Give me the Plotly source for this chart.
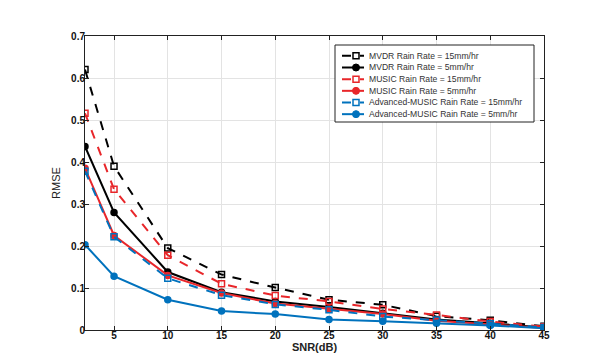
import plotly.graph_objects as go

snr = [2.3, 5, 10, 15, 20, 25, 30, 35, 40, 45]

mvdr_15 = [0.620, 0.390, 0.195, 0.132, 0.101, 0.072, 0.060, 0.033, 0.023, 0.009]
mvdr_5 = [0.437, 0.280, 0.138, 0.090, 0.068, 0.055, 0.040, 0.025, 0.016, 0.006]
music_15 = [0.516, 0.335, 0.178, 0.110, 0.082, 0.068, 0.050, 0.036, 0.020, 0.008]
music_5 = [0.385, 0.225, 0.130, 0.088, 0.063, 0.050, 0.038, 0.022, 0.013, 0.005]
adv_15 = [0.378, 0.222, 0.123, 0.083, 0.061, 0.048, 0.032, 0.024, 0.015, 0.006]
adv_5 = [0.203, 0.128, 0.072, 0.045, 0.038, 0.025, 0.021, 0.016, 0.011, 0.004]

names = [
    "MVDR Rain Rate = 15mm/hr",
    "MVDR Rain Rate = 5mm/hr",
    "MUSIC Rain Rate = 15mm/hr",
    "MUSIC Rain Rate = 5mm/hr",
    "Advanced-MUSIC Rain Rate = 15mm/hr",
    "Advanced-MUSIC Rain Rate = 5mm/hr",
]
series = [mvdr_15, mvdr_5, music_15, music_5, adv_15, adv_5]
colors = ["#000000", "#000000", "#e8262a", "#e8262a", "#0072bd", "#0072bd"]
dashes = ["dash", "solid", "dash", "solid", "dash", "solid"]
symbols = ["square-open", "circle", "square-open", "circle", "square-open", "circle"]

W, H = 593, 361
ML, MR, MT, MB = 77, 57, 28, 39
PW, PH = W - ML - MR, H - MT - MB


def px_x(p):
    return (p - ML) / PW


def px_y(p):
    return (H - MB - p) / PH


fig = go.Figure()
for name, ys, c, d, s in zip(names, series, colors, dashes, symbols):
    fig.add_trace(go.Scatter(
        x=snr, y=ys, name=name, mode="lines+markers", showlegend=False,
        line=dict(color=c, width=2, dash=d),
        marker=dict(symbol=s, size=6, color=c, line=dict(color=c, width=1.5)),
    ))

# custom compact legend (MATLAB style)
shapes = []
annotations = []
lx0, lx1, ly0, ly1 = 327, 526, 37, 114
shapes.append(dict(type="rect", xref="paper", yref="paper",
                   x0=px_x(lx0), x1=px_x(lx1), y0=px_y(ly1), y1=px_y(ly0),
                   line=dict(color="#222", width=1), fillcolor="white", layer="above"))
row_h = (ly1 - ly0 - 7) / len(names)
for i, (name, c, d, s) in enumerate(zip(names, colors, dashes, symbols)):
    yc = ly0 + 5 + row_h * (i + 0.5)
    shapes.append(dict(type="line", xref="paper", yref="paper",
                       x0=px_x(334), x1=px_x(356), y0=px_y(yc), y1=px_y(yc),
                       line=dict(color=c, width=2, dash="dash" if d == "dash" else "solid"),
                       layer="above"))
    mx = 348
    if s == "square-open":
        shapes.append(dict(type="rect", xref="paper", yref="paper",
                           x0=px_x(mx - 3), x1=px_x(mx + 3), y0=px_y(yc + 3), y1=px_y(yc - 3),
                           line=dict(color=c, width=1.5), fillcolor="white", layer="above"))
    else:
        shapes.append(dict(type="circle", xref="paper", yref="paper",
                           x0=px_x(mx - 3.5), x1=px_x(mx + 3.5), y0=px_y(yc + 3.5), y1=px_y(yc - 3.5),
                           line=dict(color=c, width=1), fillcolor=c, layer="above"))
    annotations.append(dict(text=name, xref="paper", yref="paper",
                            x=px_x(359), y=px_y(yc), xanchor="left", yanchor="middle",
                            showarrow=False, font=dict(size=8.6, color="#333",
                                                       family="Liberation Sans, Arial, sans-serif")))

axis_common = dict(
    showline=True, linecolor="#222", linewidth=1, mirror="ticks",
    ticks="inside", ticklen=4, tickcolor="#222",
    showgrid=True, gridcolor="#e3e3e3", gridwidth=1, zeroline=False,
    tickfont=dict(family="Liberation Sans, Arial, sans-serif", size=10, color="#111", weight="bold"),
)

fig.update_layout(
    width=W, height=H,
    margin=dict(l=ML, r=MR, t=MT, b=MB),
    paper_bgcolor="white", plot_bgcolor="white",
    font=dict(family="Liberation Sans, Arial, sans-serif", size=10, color="#222"),
    xaxis=dict(range=[2.3, 45], tickvals=[5, 10, 15, 20, 25, 30, 35, 40, 45],
               ticklabelstandoff=-4,
               title=dict(text="SNR(dB)", standoff=2,
                          font=dict(size=11, weight="bold", color="#222")), **axis_common),
    yaxis=dict(range=[0, 0.7], tickvals=[0, 0.1, 0.2, 0.3, 0.4, 0.5, 0.6, 0.7],
               ticklabelstandoff=-3,
               title=dict(text="RMSE", standoff=8, font=dict(size=11, color="#222")), **axis_common),
    shapes=shapes,
    annotations=annotations,
    showlegend=False,
)

fig.write_html("out.html")
